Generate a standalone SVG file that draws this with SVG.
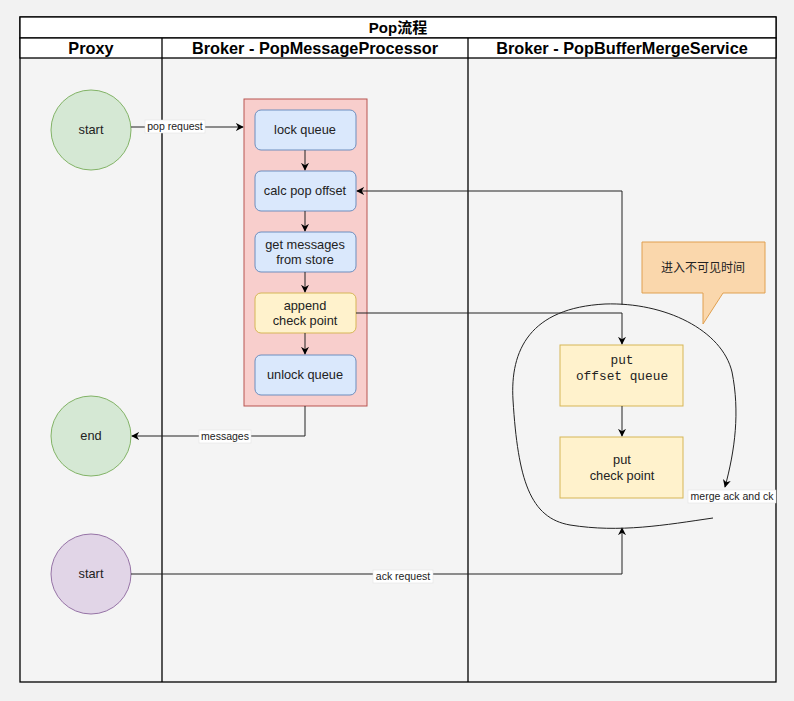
<svg xmlns="http://www.w3.org/2000/svg" width="794" height="701" viewBox="0 0 794 701">
<defs>
<marker id="arr" viewBox="0 0 10 10" refX="9" refY="5" markerWidth="8" markerHeight="8" orient="auto" markerUnits="userSpaceOnUse">
<path d="M0,0 L10,5 L0,10 L3,5 Z" fill="#000"/>
</marker>
<style>
.t{font-family:"Liberation Sans",Arial,sans-serif;font-size:12.8px;fill:#222;text-anchor:middle;}
.h{font-family:"Liberation Sans",Arial,"Noto Sans CJK SC",sans-serif;font-size:16.3px;font-weight:bold;fill:#000;text-anchor:middle;}
.m{font-family:"Liberation Mono","Courier New",monospace;font-size:12.8px;fill:#222;text-anchor:middle;}
.lbl{font-family:"Liberation Sans",Arial,sans-serif;font-size:10.5px;fill:#222;text-anchor:middle;}
.lb{fill:#fff;stroke:#ddd;stroke-width:0.5;}
.c{fill:none;stroke:#222;stroke-width:1;}
.blue{fill:#dae8fc;stroke:#6c8ebf;}
.yel{fill:#fff2cc;stroke:#d6b656;}
</style>
</defs>
<rect width="794" height="701" fill="#f2f2f2"/>
<g id="pool">
<rect x="20" y="17" width="756" height="665" fill="#f4f4f4" stroke="#000" stroke-width="1.3"/>
<rect x="20" y="17" width="756" height="21" fill="#fff" stroke="#000" stroke-width="1.3"/>
<rect x="20" y="38" width="756" height="20" fill="#fff" stroke="#000" stroke-width="1.3"/>
<line x1="162" y1="38" x2="162" y2="682" stroke="#000" stroke-width="1.3"/>
<line x1="468" y1="38" x2="468" y2="682" stroke="#000" stroke-width="1.3"/>
<text class="h" x="398" y="33" style="font-size:15px">Pop流程</text>
<text class="h" x="91" y="54">Proxy</text>
<text class="h" x="315" y="54">Broker - PopMessageProcessor</text>
<text class="h" x="622" y="54">Broker - PopBufferMergeService</text>
</g>
<g id="start1"><circle cx="91" cy="130" r="40" fill="#d5e8d4" stroke="#82b366"/><text class="t" x="91" y="134">start</text></g>
<g id="end"><circle cx="91" cy="436" r="40" fill="#d5e8d4" stroke="#82b366"/><text class="t" x="91" y="440">end</text></g>
<g id="start2"><circle cx="91" cy="574" r="40" fill="#e1d5e7" stroke="#9673a6"/><text class="t" x="91" y="578">start</text></g>
<g id="container"><rect x="244" y="99" width="123" height="307" fill="#f8cecc" stroke="#b85450"/></g>
<g id="lock"><rect class="blue" x="255" y="110" width="101" height="40" rx="6"/><text class="t" x="305" y="134">lock queue</text></g>
<g id="calc"><rect class="blue" x="255" y="171" width="101" height="40" rx="6"/><text class="t" x="305" y="195">calc pop offset</text></g>
<g id="get"><rect class="blue" x="255" y="232" width="101" height="40" rx="6"/><text class="t" x="305" y="249">get messages</text><text class="t" x="305" y="264">from store</text></g>
<g id="append"><rect class="yel" x="255" y="293" width="101" height="40" rx="6"/><text class="t" x="305" y="310">append</text><text class="t" x="305" y="325">check point</text></g>
<g id="unlock"><rect class="blue" x="255" y="355" width="101" height="40" rx="6"/><text class="t" x="305" y="379">unlock queue</text></g>
<g id="putoffset"><rect class="yel" x="560" y="345" width="123" height="61"/><text class="m" x="622" y="364">put</text><text class="m" x="622" y="380">offset queue</text></g>
<g id="putck"><rect class="yel" x="560" y="437" width="123" height="61"/><text class="t" x="622" y="464">put</text><text class="t" x="622" y="480">check point</text></g>
<g id="callout"><path d="M642,242 H765 V293 H723 L703,324 V293 H642 Z" fill="#fad7ac" stroke="#e0a050"/><text class="t" x="703" y="272" style="font-family:'Noto Sans CJK SC',sans-serif;font-size:12px">进入不可见时间</text></g>
<g id="connectors">
<line class="c" x1="131" y1="127" x2="243" y2="127" marker-end="url(#arr)"/>
<rect class="lb" x="145" y="120" width="60" height="13"/><text class="lbl" x="175" y="130">pop request</text>
<line class="c" x1="305" y1="150" x2="305" y2="170" marker-end="url(#arr)"/>
<line class="c" x1="305" y1="211" x2="305" y2="231" marker-end="url(#arr)"/>
<line class="c" x1="305" y1="272" x2="305" y2="292" marker-end="url(#arr)"/>
<line class="c" x1="305" y1="333" x2="305" y2="354" marker-end="url(#arr)"/>
<polyline class="c" points="305,406 305,436 132,436" marker-end="url(#arr)"/>
<rect class="lb" x="199" y="430" width="52" height="13"/><text class="lbl" x="225" y="440">messages</text>
<polyline class="c" points="356,313 622,313 622,344" marker-end="url(#arr)"/>
<polyline class="c" points="622,305 622,191 357,191" marker-end="url(#arr)"/>
<line class="c" x1="622" y1="406" x2="622" y2="436" marker-end="url(#arr)"/>
<polyline class="c" points="131,574 622,574 622,528" marker-end="url(#arr)"/>
<rect class="lb" x="373" y="570" width="60" height="13"/><text class="lbl" x="403" y="580">ack request</text>
<path class="c" d="M713,518 C665,525 620,533 570,525 C530,518 518,480 513,400 C510,350 530,308 605,304 C665,302 722,330 732,372 C740,412 735,450 725,487" marker-end="url(#arr)"/>
<rect class="lb" x="688" y="490" width="88" height="13"/><text class="lbl" x="732" y="500">merge ack and ck</text>
</g>
</svg>
